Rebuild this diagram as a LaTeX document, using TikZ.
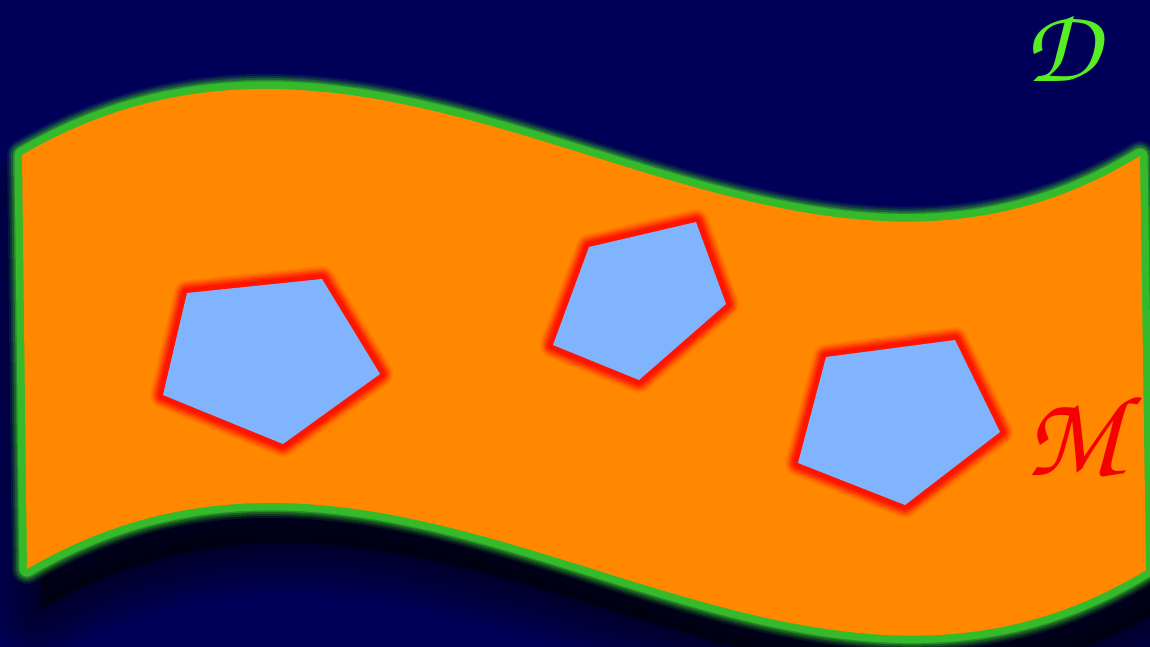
\documentclass[tikz,border=0pt]{standalone}
\usetikzlibrary{calc}
\definecolor{navy}{RGB}{0,0,88}
\definecolor{bandorange}{RGB}{255,136,0}
\definecolor{bordergreen}{RGB}{52,186,42}
\definecolor{polyblue}{RGB}{128,180,255}
\definecolor{glowred}{RGB}{255,20,0}
\definecolor{letterD}{RGB}{88,238,36}
\definecolor{letterM}{RGB}{245,0,0}
\tikzset{
  band/.style={insert path={(22,155) .. controls (413,-74) and (768,384) .. (1140,156) -- (1146,570) .. controls (773,798) and (418,340) .. (27,569) -- cycle}},
  pentaA/.style={insert path={(187,293) -- (322,279) -- (380,374) -- (283,444) -- (163,395) -- cycle}},
  pentaB/.style={insert path={(589,247) -- (696,222) -- (726,304) -- (639,380) -- (553,345) -- cycle}},
  pentaC/.style={insert path={(826,357) -- (955,340) -- (1000,432) -- (905,505) -- (798,463) -- cycle}},
  letter/.style={font=\fontsize{#1}{#1}\usefont{OT1}{pzc}{mb}{it}, inner sep=0pt},
}
\begin{document}
\begin{tikzpicture}[x=1pt,y=-1pt,line join=round]
\useasboundingbox (0,0) rectangle (1150,647);
\fill[navy] (0,0) rectangle (1150,647);
% drop shadow of the band
\begin{scope}
\clip (0,0) rectangle (1150,647);
\foreach \w in {0,8,...,104}
  \filldraw[black, opacity=0.045, line width=\w pt, shift={(14,40)}, band];
\end{scope}
% green glowing border
\foreach \w/\o in {30/0.12,26/0.2,22/0.3,18/0.5}
  \draw[bordergreen, opacity=\o, line width=\w pt, band];
\draw[bordergreen, line width=15pt, band];
\fill[bandorange, band];
% pentagons with red glow
\foreach \p in {pentaA,pentaB,pentaC}{
  \foreach \w/\o in {26/0.12,22/0.22,18/0.35,14/0.55}
    \draw[glowred, opacity=\o, line width=\w pt, \p];
  \draw[glowred, line width=10pt, \p];
  \fill[polyblue, \p];
}
% letters
\node[letter=106, text=letterD] (D) at (1062,48) {D};
\node[letter=116, text=letterM] (M) at (1074,434) {M};
\end{tikzpicture}
\end{document}
